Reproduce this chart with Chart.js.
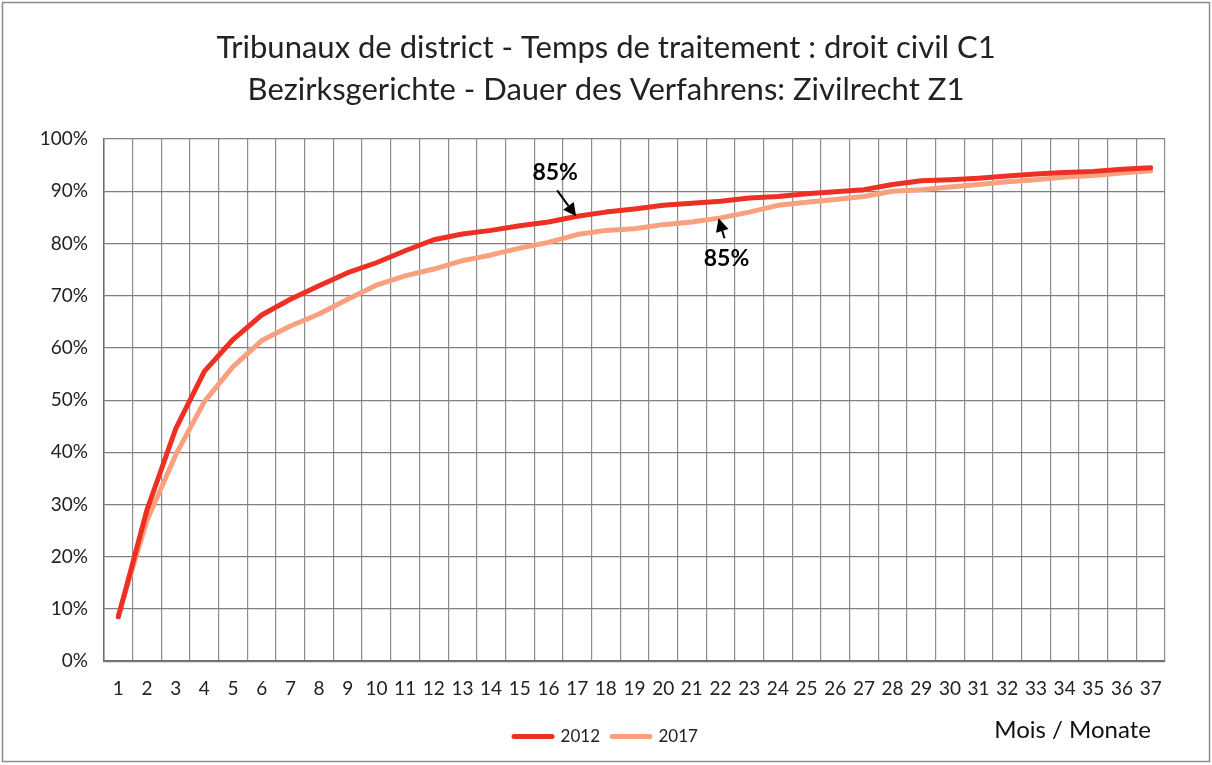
<!DOCTYPE html>
<html>
<head>
<meta charset="utf-8">
<script src="https://cdn.jsdelivr.net/npm/chart.js@4/dist/chart.umd.min.js"></script>
<style>
  html, body { margin: 0; padding: 0; background: #fff; }
  #wrap { width: 1212px; height: 765px; }
</style>
</head>
<body>
<div id="wrap"><canvas id="chart" width="1212" height="765"></canvas></div>
<script>
const months = ["1","2","3","4","5","6","7","8","9","10","11","12","13","14","15","16","17","18","19",
  "20","21","22","23","24","25","26","27","28","29","30","31","32","33","34","35","36","37"];

const values2012 = [8.5, 29, 44.5, 55.5, 61.6, 66.3, 69.3, 71.9, 74.4, 76.3,
  78.6, 80.7, 81.8, 82.5, 83.4, 84.1, 85.2, 86.0, 86.6, 87.3,
  87.7, 88.1, 88.7, 89.0, 89.5, 89.9, 90.3, 91.3, 92.0, 92.2,
  92.5, 92.9, 93.3, 93.6, 93.8, 94.2, 94.5];

const values2017 = [8.8, 27, 39.5, 49.7, 56.4, 61.4, 64.2, 66.5, 69.3, 72.0,
  73.8, 75.1, 76.7, 77.8, 79.1, 80.2, 81.7, 82.5, 82.8, 83.6,
  84.1, 84.9, 86.0, 87.3, 87.9, 88.4, 89.0, 90.0, 90.3, 90.8,
  91.3, 91.8, 92.2, 92.7, 93.0, 93.5, 93.9];

const titleLines = [
  "Tribunaux de district - Temps de traitement : droit civil C1",
  "Bezirksgerichte - Dauer des Verfahrens: Zivilrecht Z1"
];
const axisLabel = "Mois / Monate";

// arrows pointing at the 85% mark of each year
const marks85 = [
  { month: "17", value: 85, label: "85%", above: true },
  { month: "22", value: 85, label: "85%", above: false }
];

const red = "#ee3024";
const orange = "#f9a07f";
const font = "Lato, 'Open Sans', sans-serif";

function arrow(ctx, x1, y1, x2, y2) {
  const a = Math.atan2(y2 - y1, x2 - x1);
  const head = 13, wing = 6.5;
  const bx = x2 - head * Math.cos(a), by = y2 - head * Math.sin(a);
  ctx.beginPath();
  ctx.moveTo(x1, y1);
  ctx.lineTo(bx, by);
  ctx.lineWidth = 2;
  ctx.strokeStyle = "#000";
  ctx.stroke();
  ctx.beginPath();
  ctx.moveTo(x2, y2);
  ctx.lineTo(bx + wing * Math.sin(a), by - wing * Math.cos(a));
  ctx.lineTo(bx - wing * Math.sin(a), by + wing * Math.cos(a));
  ctx.closePath();
  ctx.fillStyle = "#000";
  ctx.fill();
}

const extras = {
  id: "extras",
  beforeDraw(chart) {
    const ctx = chart.ctx;
    ctx.save();
    ctx.fillStyle = "#fff";
    ctx.fillRect(0, 0, chart.width, chart.height);
    ctx.strokeStyle = "#8c8c8c";
    ctx.lineWidth = 1.5;
    ctx.strokeRect(2.5, 2.5, chart.width - 5, chart.height - 6);
    ctx.restore();
  },
  afterDatasetsDraw(chart) {
    const ctx = chart.ctx;
    const xs = chart.scales.x, ys = chart.scales.y;
    ctx.save();
    ctx.font = "bold 23px " + font;
    ctx.textAlign = "center";
    ctx.textBaseline = "middle";
    ctx.fillStyle = "#000";
    marks85.forEach(m => {
      const x = xs.getPixelForValue(months.indexOf(m.month));
      const y = ys.getPixelForValue(m.value);
      if (m.above) {
        ctx.fillText(m.label, x - 22, y - 45);
        arrow(ctx, x - 20, y - 27, x - 1, y - 1);
      } else {
        ctx.fillText(m.label, x + 6, y + 41);
        arrow(ctx, x + 4, y + 21, x - 2, y + 1);
      }
    });
    ctx.font = "24px " + font;
    ctx.textAlign = "right";
    ctx.fillStyle = "#111";
    ctx.fillText(axisLabel, chart.chartArea.right - 14, 730);
    ctx.restore();
  }
};

new Chart(document.getElementById("chart"), {
  type: "line",
  data: {
    labels: months,
    datasets: [
      { label: "2012", data: values2012, borderColor: red, backgroundColor: red },
      { label: "2017", data: values2017, borderColor: orange, backgroundColor: orange }
    ]
  },
  options: {
    responsive: false,
    animation: false,
    devicePixelRatio: 1,
    layout: { padding: { left: 0, right: 0, top: 0, bottom: 10 } },
    elements: {
      line: { borderWidth: 5, tension: 0, borderJoinStyle: "round", borderCapStyle: "round" },
      point: { radius: 0, hoverRadius: 0 }
    },
    plugins: {
      tooltip: { enabled: false },
      title: {
        display: true,
        text: titleLines,
        color: "#222",
        font: { family: font, size: 31, weight: "normal", lineHeight: 42 / 31 },
        padding: { top: 27, bottom: 28 }
      },
      legend: {
        position: "bottom",
        labels: {
          usePointStyle: true,
          pointStyle: "line",
          pointStyleWidth: 38,
          boxHeight: 6,
          color: "#222",
          font: { family: font, size: 17 },
          padding: 12,
          generateLabels(chart) {
            return Chart.defaults.plugins.legend.labels.generateLabels(chart).map(item => {
              item.lineWidth = 5;
              item.strokeStyle = chart.data.datasets[item.datasetIndex].borderColor;
              item.lineCap = "round";
              return item;
            });
          }
        }
      }
    },
    scales: {
      x: {
        offset: true,
        grid: { offset: true, color: "#8c8c8c", lineWidth: 1.2, drawTicks: false },
        border: { color: "#6e6e6e", width: 1.5 },
        ticks: { color: "#222", font: { family: font, size: 19 }, padding: 16, autoSkip: false, maxRotation: 0 }
      },
      y: {
        min: 0,
        max: 100,
        afterFit(scale) { scale.width = 104; },
        grid: { color: "#7f7f7f", lineWidth: 1.2, drawTicks: false },
        border: { color: "#6e6e6e", width: 1.5 },
        ticks: {
          stepSize: 10,
          color: "#222",
          font: { family: font, size: 19 },
          padding: 16,
          callback: v => v + "%"
        }
      },
      // empty space right of the plot, keeps the title centred on the page
      spacer: {
        type: "linear",
        position: "right",
        min: 0,
        max: 1,
        afterFit(scale) { scale.width = 47; },
        grid: { display: false, drawTicks: false },
        border: { display: false },
        ticks: { display: false }
      }
    }
  },
  plugins: [extras]
});
</script>
</body>
</html>
